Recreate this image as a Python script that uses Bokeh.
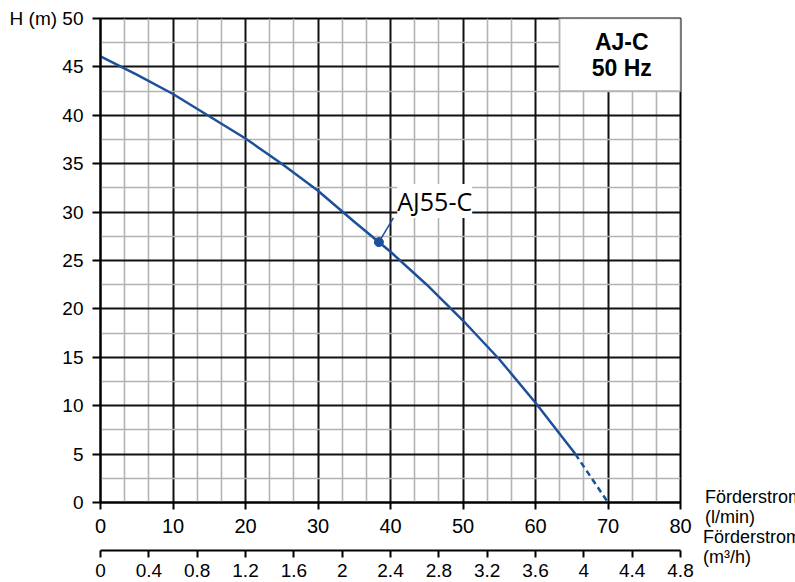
from bokeh.plotting import figure
from bokeh.layouts import row
from bokeh.models import Range1d, LinearAxis, FixedTicker, Label, CustomJSTickFormatter, Div
from bokeh.embed import file_html
from bokeh.resources import INLINE

# ---- data ----
flow_lpm = [0, 5, 10, 15, 20, 25, 30, 35, 40, 45, 50, 55, 60, 65.5]
head_m = [46.1, 44.2, 42.2, 39.9, 37.6, 35.0, 32.2, 29.0, 25.9, 22.5, 18.8, 14.8, 10.3, 5.0]
flow_dashed = [65.5, 70]
head_dashed = [5.0, 0.0]
point_flow = [38.4]
point_head = [26.9]
leader_flow = [38.4, 40.4]
leader_head = [26.9, 29.4]
curve_name = "AJ55-C"
title_lines = ["AJ-C", "50 Hz"]

x_ticks = [0, 10, 20, 30, 40, 50, 60, 70, 80]
y_ticks = [0, 5, 10, 15, 20, 25, 30, 35, 40, 45, 50]
m3h_ticks = [0, 0.4, 0.8, 1.2, 1.6, 2.0, 2.4, 2.8, 3.2, 3.6, 4.0, 4.4, 4.8]
x_label = ["Förderstrom", "(l/min)"]
x2_label = ["Förderstrom", "(m³/h)"]
y_label = "H (m)"

# minor grid positions (styling): thirds in x, halves in y
x_minor = [a + (b - a) * k / 3 for a, b in zip(x_ticks[:-1], x_ticks[1:]) for k in (1, 2)]
y_minor = [a + (b - a) / 2 for a, b in zip(y_ticks[:-1], y_ticks[1:])]

BLUE = "#1d4f9a"
FONT = "Liberation Sans"

# layout geometry (pixels)
H = 582
LEFT, TOP, BOTTOM = 100, 18, 80
FRAME_W, FRAME_H = 580, 484
RIGHT = 16
SIDE_W = 795 - (LEFT + FRAME_W + RIGHT)

p = figure(width=LEFT + FRAME_W + RIGHT, height=H, x_range=Range1d(0, 80), y_range=Range1d(0, 50),
           output_backend="svg", toolbar_location=None,
           min_border_left=LEFT, min_border_right=RIGHT, min_border_top=TOP, min_border_bottom=BOTTOM)
p.extra_x_ranges = {"m3h": Range1d(0, 4.8)}

p.outline_line_color = "black"
p.outline_line_width = 2
p.outline_line_alpha = 1

xt = FixedTicker(ticks=x_ticks, minor_ticks=x_minor)
yt = FixedTicker(ticks=y_ticks, minor_ticks=y_minor)
p.xaxis.ticker = xt
p.yaxis.ticker = yt
p.xgrid.ticker = xt
p.ygrid.ticker = yt

for g in (p.xgrid, p.ygrid):
    g.grid_line_color = "#111111"
    g.grid_line_width = 2
    g.grid_line_alpha = 1
    g.minor_grid_line_color = "#b3b3b3"
    g.minor_grid_line_width = 1.6

for ax in (p.xaxis, p.yaxis):
    ax.axis_line_color = "black"
    ax.axis_line_width = 2
    ax.major_tick_line_color = "black"
    ax.major_tick_line_width = 2
    ax.major_tick_in = 0
    ax.minor_tick_line_color = None
    ax.major_label_text_color = "black"
    ax.major_label_text_font = FONT

p.yaxis.major_tick_out = 8
p.yaxis.major_label_standoff = 9
p.yaxis.major_label_text_font_size = "19px"
p.yaxis.major_label_overrides = {y_ticks[-1]: y_label + " " + str(y_ticks[-1])}

p.xaxis.major_tick_out = 7
p.xaxis.major_label_standoff = 9
p.xaxis.major_label_text_font_size = "20px"
p.xaxis.axis_label = " "
p.xaxis.axis_label_standoff = 0
p.xaxis.axis_label_text_font_size = "11px"

ax2 = LinearAxis(x_range_name="m3h", ticker=FixedTicker(ticks=m3h_ticks),
                 formatter=CustomJSTickFormatter(code="return String(Number(tick.toFixed(1)));"))
ax2.axis_line_color = "black"
ax2.axis_line_width = 2
ax2.major_tick_line_color = "black"
ax2.major_tick_line_width = 2
ax2.major_tick_in = 0
ax2.major_tick_out = 7
ax2.minor_tick_line_color = None
ax2.major_label_standoff = 6
ax2.major_label_text_color = "black"
ax2.major_label_text_font = FONT
ax2.major_label_text_font_size = "19px"
p.add_layout(ax2, "below")

# title box
p.quad(left=[63.33], right=[80], bottom=[42.5], top=[50], fill_color="white",
       line_color="#b3b3b3", line_width=1.6)
p.add_layout(Label(x=71.9, y=47.6, text=title_lines[0], text_align="center", text_baseline="middle",
                   text_font=FONT, text_font_style="bold", text_font_size="23px", text_color="black"))
p.add_layout(Label(x=71.9, y=44.9, text=title_lines[1], text_align="center", text_baseline="middle",
                   text_font=FONT, text_font_style="bold", text_font_size="23px", text_color="black"))

# curve
p.line(flow_lpm, head_m, line_color=BLUE, line_width=2.5)
p.line(flow_dashed, head_dashed, line_color=BLUE, line_width=2.5, line_dash="6 4")
p.line(leader_flow, leader_head, line_color=BLUE, line_width=1.5)
p.scatter(point_flow, point_head, size=9, fill_color=BLUE, line_color=BLUE)

p.add_layout(Label(x=46.1, y=31.15, text=curve_name, text_align="center", text_baseline="middle",
                   text_font="Open Sans", text_font_size="25px", text_color="black",
                   background_fill_color="white", background_fill_alpha=1))

# right-hand axis titles (outside the plot frame)
side_html = (
    '<div style="position:relative;width:%dpx;height:%dpx;overflow:hidden;'
    "font-family:'Liberation Sans';font-size:18px;line-height:20px;color:black;\">"
    '<div style="position:absolute;left:4px;top:482px;white-space:nowrap;">%s<br>%s</div>'
    '<div style="position:absolute;left:2px;top:522px;white-space:nowrap;">%s<br>%s</div>'
    '</div>'
) % (SIDE_W, H, x_label[0], x_label[1], x2_label[0], x2_label[1])
side = Div(text=side_html, width=SIDE_W, height=H)

layout = row(p, side)
open("out.html", "w").write(file_html(layout, INLINE))
